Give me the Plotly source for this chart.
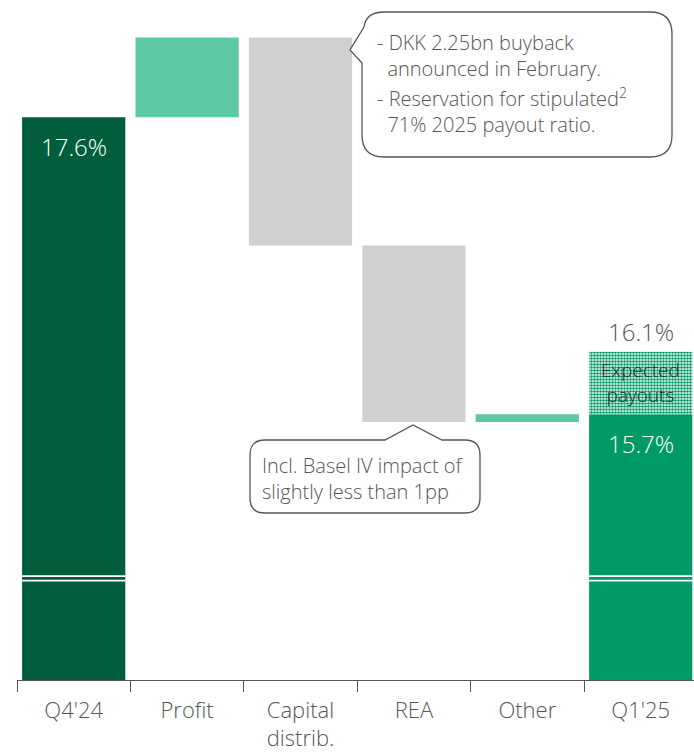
import plotly.graph_objects as go

# CET1 ratio walk, percent / percentage points
categories = ["Q4'24", "Profit", "Capital<br>distrib.", "REA", "Other", "Q1'25"]
start_ratio = 17.6
change_values = [0.51, -1.33, -1.13, 0.05]  # Profit, Capital distrib., REA, Other
end_ratio = 15.7
ratio_incl_payouts = 16.1

# styling
DARK_GREEN = "#005e3c"
MID_GREEN = "#009a66"
LIGHT_GREEN = "#5cc8a4"
GREY_BAR = "#d0d0d0"
TEXT = "#555555"
FONT = "Open Sans"
WEIGHT = 300

W, H = 694, 754
M_L, M_R, M_T, M_B = 17, 0, 0, 74
Y_MIN, Y_MAX = 14.0, 18.35
BAR_W = 0.91

# floating bars: totals start at zero (axis is truncated), changes float
bases, heights, colors = [0.0], [start_ratio], [DARK_GREEN]
running = start_ratio
for v in change_values:
    bases.append(running if v > 0 else running + v)
    heights.append(abs(v))
    colors.append(LIGHT_GREEN if v > 0 else GREY_BAR)
    running += v
bases.append(0.0)
heights.append(end_ratio)
colors.append(MID_GREEN)

fig = go.Figure()
fig.add_trace(go.Bar(
    x=categories, y=heights, base=bases, width=BAR_W,
    marker=dict(color=colors, line=dict(width=0)),
    hoverinfo="skip",
))
fig.add_trace(go.Bar(
    x=[categories[-1]], y=[ratio_incl_payouts - end_ratio], base=[end_ratio],
    width=BAR_W,
    marker=dict(color="white", line=dict(width=0),
                pattern=dict(shape=".", fgcolor=MID_GREEN, bgcolor="white",
                             size=3, solidity=0.6, fillmode="replace")),
    hoverinfo="skip",
))

plot_w = W - M_L - M_R
plot_h = H - M_T - M_B


def px(x):
    return (x - M_L) / plot_w


def py(y):
    return (H - M_B - y) / plot_h


def path_px(points):
    out = []
    for i, p in enumerate(points):
        if p[0] == "Q":
            _, cx, cy, x, y = p
            out.append(f"Q{px(cx):.5f},{py(cy):.5f} {px(x):.5f},{py(y):.5f}")
        else:
            x, y = p
            out.append(("M" if i == 0 else "L") + f"{px(x):.5f},{py(y):.5f}")
    return " ".join(out) + " Z"


def font(size, color=TEXT):
    return dict(family=FONT, size=size, color=color, weight=WEIGHT)


shapes = []

# axis-break marks on the two total bars
for idx in (0, len(categories) - 1):
    for yb in (576.2, 580.6):
        shapes.append(dict(type="line", xref="x", yref="paper",
                           x0=idx - BAR_W / 2, x1=idx + BAR_W / 2,
                           y0=py(yb), y1=py(yb),
                           line=dict(color="white", width=1.8)))

# speech bubble pointing left to the capital distribution bar
l, r, t, b, rad = 362, 672, 12, 157, 22
bubble1 = [
    (l + rad, t), (r - rad, t), ("Q", r, t, r, t + rad),
    (r, b - rad), ("Q", r, b, r - rad, b),
    (l + rad, b), ("Q", l, b, l, b - rad),
    (l, 63), (350, 50), (l + 2, 27),
    ("Q", l + 4, t, l + rad, t),
]
shapes.append(dict(type="path", xref="paper", yref="paper", path=path_px(bubble1),
                   line=dict(color=TEXT, width=1.3), fillcolor="white", layer="above"))

# speech bubble pointing up to the REA bar
l, r, t, b, rad = 250, 480, 440, 513, 15
bubble2 = [
    (l + rad, t), (385, t), (413, 425), (442, t),
    (r - rad, t), ("Q", r, t, r, t + rad),
    (r, b - rad), ("Q", r, b, r - rad, b),
    (l + rad, b), ("Q", l, b, l, b - rad),
    (l, t + rad), ("Q", l, t, l + rad, t),
]
shapes.append(dict(type="path", xref="paper", yref="paper", path=path_px(bubble2),
                   line=dict(color=TEXT, width=1.3), fillcolor="white", layer="above"))

annotations = [
    dict(x=0, y=start_ratio, xref="x", yref="y", text=f"{start_ratio:.1f}%",
         showarrow=False, yanchor="top", yshift=-11, font=font(24, "white")),
    dict(x=len(categories) - 1, y=end_ratio, xref="x", yref="y", text=f"{end_ratio:.1f}%",
         showarrow=False, yanchor="top", yshift=-11, font=font(24, "white")),
    dict(x=len(categories) - 1, y=ratio_incl_payouts, xref="x", yref="y",
         text=f"{ratio_incl_payouts:.1f}%",
         showarrow=False, yanchor="bottom", yshift=2, font=font(24)),
    dict(x=len(categories) - 1, y=(end_ratio + ratio_incl_payouts) / 2, xref="x", yref="y",
         text="Expected<br>payouts", showarrow=False, yanchor="middle",
         font=font(19, "#1f2d26")),
    dict(x=px(375), y=py(55), xref="paper", yref="paper", xanchor="left", yanchor="middle",
         align="left", showarrow=False,
         text="- DKK 2.25bn buyback<br>  announced in February.", font=font(20)),
    dict(x=px(375), y=py(111), xref="paper", yref="paper", xanchor="left", yanchor="middle",
         align="left", showarrow=False,
         text="- Reservation for stipulated<sup>2</sup><br>  71% 2025 payout ratio.",
         font=font(20)),
    dict(x=px(260), y=py(479), xref="paper", yref="paper", xanchor="left", yanchor="middle",
         align="left", showarrow=False,
         text="Incl. Basel IV impact of<br>slightly less than 1pp", font=font(20)),
]

fig.update_layout(
    width=W, height=H,
    margin=dict(l=M_L, r=M_R, t=M_T, b=M_B, autoexpand=False),
    plot_bgcolor="white", paper_bgcolor="white",
    barmode="overlay", showlegend=False,
    font=dict(family=FONT, color=TEXT, weight=WEIGHT),
    shapes=shapes, annotations=annotations,
    xaxis=dict(
        type="category", categoryorder="array", categoryarray=categories,
        range=[-0.5, -0.5 + plot_w / 113.4],
        showline=True, linecolor=TEXT, linewidth=1.2,
        ticks="outside", tickson="boundaries", ticklen=11, tickcolor=TEXT, tickwidth=1.2,
        tickfont=font(22),
        ticklabelstandoff=10,
        showgrid=False, zeroline=False, automargin=False, fixedrange=True,
    ),
    yaxis=dict(range=[Y_MIN, Y_MAX], visible=False, showgrid=False,
               zeroline=False, automargin=False, fixedrange=True),
)

fig.write_html("out.html")
